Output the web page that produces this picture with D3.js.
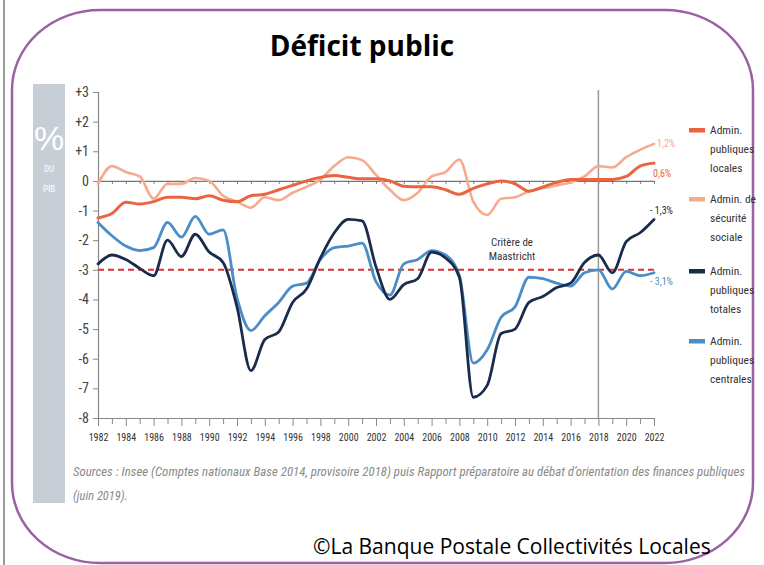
<!DOCTYPE html>
<html><head><meta charset="utf-8">
<script src="https://cdn.jsdelivr.net/npm/d3@7"></script>
<style>
body{margin:0;background:#fff;}
svg{display:block;}
.narrow{font-family:"Liberation Sans Narrow","Arial Narrow","Roboto Condensed","Liberation Sans",sans-serif;}
</style></head>
<body>
<svg id="c" width="764" height="565"></svg>
<script>
const years = d3.range(1982, 2023);
const xTickYears = d3.range(1982, 2023, 2);
const yTicks = [3,2,1,0,-1,-2,-3,-4,-5,-6,-7,-8];
const seriesNames = ["Admin. publiques locales","Admin. de sécurité sociale","Admin. publiques totales","Admin. publiques centrales"];
const local = [-1.25,-1.1,-0.72,-0.78,-0.7,-0.55,-0.55,-0.6,-0.5,-0.65,-0.7,-0.5,-0.45,-0.3,-0.15,0.0,0.12,0.18,0.12,0.07,0.07,0.0,-0.18,-0.2,-0.2,-0.3,-0.45,-0.25,-0.1,0.0,-0.1,-0.35,-0.2,-0.05,0.05,0.05,0.05,0.05,0.15,0.5,0.6];
const social = [-0.1,0.5,0.3,0.15,-0.6,-0.1,-0.1,0.1,0.0,-0.5,-0.7,-0.9,-0.55,-0.65,-0.4,-0.2,0.05,0.5,0.8,0.7,0.2,-0.3,-0.65,-0.4,0.15,0.3,0.72,-0.7,-1.15,-0.6,-0.55,-0.35,-0.25,-0.15,-0.05,0.15,0.5,0.45,0.8,1.05,1.25];
const total = [-2.8,-2.5,-2.65,-2.95,-3.2,-2.0,-2.55,-1.8,-2.4,-2.75,-4.25,-6.4,-5.35,-5.1,-4.1,-3.65,-2.6,-1.75,-1.3,-1.35,-2.9,-4.0,-3.5,-3.3,-2.4,-2.6,-3.25,-7.3,-6.9,-5.15,-5.0,-4.1,-3.9,-3.6,-3.45,-2.75,-2.5,-3.1,-2.05,-1.75,-1.3];
const central = [-1.4,-1.85,-2.2,-2.35,-2.25,-1.4,-1.9,-1.2,-1.8,-1.65,-3.95,-5.05,-4.55,-4.1,-3.55,-3.45,-2.65,-2.25,-2.2,-2.1,-3.4,-3.85,-2.8,-2.65,-2.35,-2.5,-3.2,-6.15,-5.7,-4.6,-4.25,-3.25,-3.3,-3.45,-3.55,-3.1,-3.0,-3.65,-3.05,-3.2,-3.1];
const endLabels = ["1,2%","0,6%","- 1,3%","- 3,1%"];
const maastricht = -3;
const forecastYear = 2018;

const colors = {local:"#ea6440", social:"#f6ab8c", total:"#1b2b4b", central:"#4b8dc7"};

const svg = d3.select("#c");

// page border line & frame
svg.append("rect").attr("x",3).attr("y",0).attr("width",2).attr("height",565).attr("fill","#9a9a9a");
svg.append("rect").attr("x",12).attr("y",10).attr("width",741).attr("height",553)
  .attr("rx",88).attr("ry",80).attr("fill","none").attr("stroke","#9a62a2").attr("stroke-width",2.5);

// title
svg.append("text").attr("x",362).attr("y",56).attr("text-anchor","middle")
  .attr("font-family","Open Sans, Liberation Sans, sans-serif").attr("font-weight","bold")
  .attr("font-size",28).attr("fill","#000").text("Déficit public");

// grey side panel
svg.append("rect").attr("x",33).attr("y",84).attr("width",32).attr("height",419).attr("fill","#c7ced6");
svg.append("text").attr("x",49).attr("y",150).attr("text-anchor","middle").attr("fill","#fff")
  .attr("font-family","Liberation Sans, sans-serif").attr("font-size",34).text("%");
svg.append("text").attr("x",49).attr("y",172).attr("text-anchor","middle").attr("fill","#fff")
  .attr("class","narrow").attr("font-size",9).text("DU");
svg.append("text").attr("x",49).attr("y",192).attr("text-anchor","middle").attr("fill","#fff")
  .attr("class","narrow").attr("font-size",9).text("PIB");

const x = d3.scaleLinear().domain([1982,2022]).range([98,654]);
const y = d3.scaleLinear().domain([-8,3]).range([418,92]);

// y axis
const yAxis = d3.axisLeft(y).tickValues(yTicks).tickSize(5).tickPadding(4)
  .tickFormat(d => d>0 ? "+"+d : String(d));
const gy = svg.append("g").attr("transform","translate(98,0)").call(yAxis);
gy.select(".domain").attr("stroke","#888").attr("stroke-width",1.2);
gy.selectAll(".tick line").attr("stroke","#888");
gy.selectAll("text").attr("class","narrow").attr("font-size",14).attr("fill","#444").attr("font-family",null);

// x axis at bottom
const xAxis = d3.axisBottom(x).tickValues(years).tickSize(7).tickSizeOuter(0).tickFormat(d => d%2===0 ? d : "");
const gx = svg.append("g").attr("transform","translate(0,418)").call(xAxis);
gx.select(".domain").attr("stroke","#888").attr("stroke-width",1.2);
gx.selectAll(".tick line").attr("stroke","#888").attr("y2",d=> d%2===0?8:6);
gx.selectAll("text").attr("class","narrow").attr("font-size",10).attr("fill","#333").attr("font-family",null).attr("dy","1.25em");

// zero line with small ticks
const z = svg.append("g").attr("transform","translate(0,"+y(0)+")").call(d3.axisBottom(x).tickValues(years).tickSize(3).tickSizeOuter(0).tickFormat(""));
z.select(".domain").attr("stroke","#777").attr("stroke-width",1.2);
z.selectAll(".tick line").attr("stroke","#777");

// forecast vertical line
svg.append("line").attr("x1",x(forecastYear)).attr("x2",x(forecastYear)).attr("y1",90).attr("y2",418)
  .attr("stroke","#999").attr("stroke-width",1.5);

// Maastricht dashed
svg.append("line").attr("x1",x(1982)).attr("x2",x(2022)).attr("y1",y(maastricht)).attr("y2",y(maastricht))
  .attr("stroke","#de2f33").attr("stroke-width",2).attr("stroke-dasharray","6,4");
svg.append("text").attr("x",512).attr("y",246).attr("text-anchor","middle").attr("class","narrow")
  .attr("font-size",11).attr("fill","#333").text("Critère de");
svg.append("text").attr("x",512).attr("y",260).attr("text-anchor","middle").attr("class","narrow")
  .attr("font-size",11).attr("fill","#333").text("Maastricht");

const line = d3.line().x((d,i)=>x(years[i])).y(d=>y(d)).curve(d3.curveMonotoneX);
const draw = (arr,col,w) => svg.append("path").datum(arr).attr("d",line).attr("fill","none")
  .attr("stroke",col).attr("stroke-width",w).attr("stroke-linejoin","round").attr("stroke-linecap","round");
draw(social, colors.social, 2.6);
draw(local, colors.local, 3);
draw(central, colors.central, 2.8);
draw(total, colors.total, 2.8);

// end labels
const endPos = [[657,147,colors.social],[653,177,colors.local],[650,214,colors.total],[650,285,colors.central]];
endLabels.forEach((t,i)=>{
  svg.append("text").attr("x",endPos[i][0]).attr("y",endPos[i][1]).attr("class","narrow")
    .attr("font-size",10).attr("fill",endPos[i][2]).text(t);
});

// legend
const legLines = [["Admin.","publiques","locales"],["Admin. de","sécurité","sociale"],["Admin.","publiques","totales"],["Admin.","publiques","centrales"]];
const legTop = [130,199,271,341];
const legCols = [colors.local, colors.social, colors.total, colors.central];
legLines.forEach((ls,i)=>{
  svg.append("rect").attr("x",689).attr("y",legTop[i]-2).attr("width",16).attr("height",4.5).attr("fill",legCols[i]);
  ls.forEach((t,j)=>{
    svg.append("text").attr("x",710).attr("y",legTop[i]+4+j*19).attr("class","narrow")
      .attr("font-size",11.5).attr("fill","#333").text(t);
  });
});

// sources
svg.append("text").attr("x",73).attr("y",476).attr("class","narrow").attr("font-style","italic")
  .attr("font-size",12.5).attr("fill","#8a8a8a").attr("textLength",672).attr("lengthAdjust","spacingAndGlyphs")
  .text("Sources : Insee (Comptes nationaux Base 2014, provisoire 2018) puis Rapport préparatoire au débat d’orientation des finances publiques");
svg.append("text").attr("x",73).attr("y",500).attr("class","narrow").attr("font-style","italic")
  .attr("font-size",12.5).attr("fill","#8a8a8a").text("(juin 2019).");

// copyright
svg.append("text").attr("x",313).attr("y",554).attr("font-family","Open Sans, Liberation Sans, sans-serif")
  .attr("font-size",21).attr("fill","#000").text("©La Banque Postale Collectivités Locales");
</script>
</body></html>
